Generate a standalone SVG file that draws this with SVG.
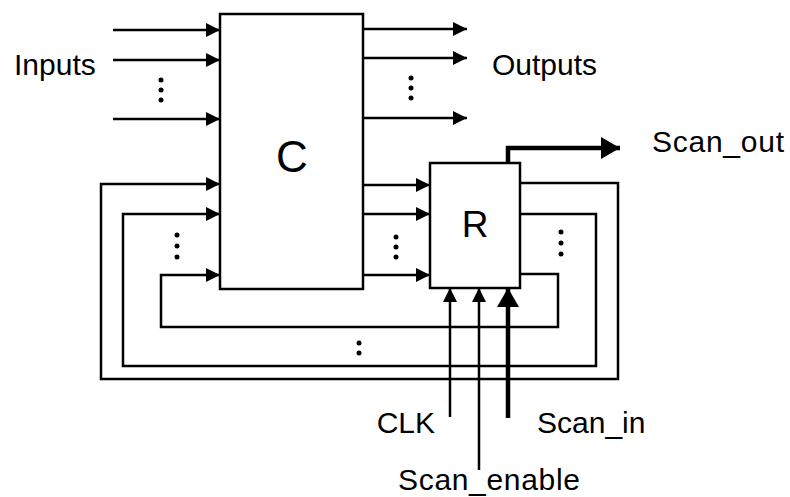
<svg xmlns="http://www.w3.org/2000/svg" width="790" height="497" viewBox="0 0 790 497">
<style>
.box{fill:#fff;stroke:#000;stroke-width:2.5}
.w{fill:none;stroke:#000;stroke-width:2.5;marker-end:url(#ah)}
.wl{fill:none;stroke:#000;stroke-width:2.5}
.tk{fill:none;stroke:#000;stroke-width:4.5;marker-end:url(#ahb)}
.t{font-family:"Liberation Sans",Arial,Helvetica,sans-serif;font-size:30px;fill:#000}
.dot{fill:#000}
</style>
<defs>
<marker id="ah" markerUnits="userSpaceOnUse" markerWidth="14" markerHeight="14" refX="14" refY="7" orient="auto">
<path d="M0,0 L14,7 L0,14 z" fill="#000"/>
</marker>
<marker id="ahb" markerUnits="userSpaceOnUse" markerWidth="19" markerHeight="22" refX="19" refY="11" orient="auto">
<path d="M0,0 L19,11 L0,22 z" fill="#000"/>
</marker>
</defs>
<g id="connectors">
<path class="w" d="M113,30 H220"/>
<path class="w" d="M113,60 H220"/>
<path class="w" d="M113,119 H220"/>
<path class="w" d="M363,29 H467"/>
<path class="w" d="M363,58 H467"/>
<path class="w" d="M363,118 H467"/>
<path class="w" d="M363,185 H430"/>
<path class="w" d="M363,214 H430"/>
<path class="w" d="M363,275 H430"/>
<path class="w" d="M520,183 H618 V379 H101 V184 H220"/>
<path class="w" d="M520,214 H596 V366 H123 V214 H220"/>
<path class="w" d="M520,274 H558 V327 H161 V275 H220"/>
<path class="tk" d="M508,163 V148 H620"/>
<path class="w" d="M450,417 V288"/>
<path class="w" d="M479,470 V288"/>
<path class="tk" d="M508,418 V288"/>
<g class="dot">
<circle cx="161" cy="80" r="2.5"/><circle cx="161" cy="90" r="2.5"/><circle cx="161" cy="100" r="2.5"/>
<circle cx="411" cy="78" r="2.5"/><circle cx="411" cy="88" r="2.5"/><circle cx="411" cy="98" r="2.5"/>
<circle cx="177" cy="235" r="2.5"/><circle cx="177" cy="246" r="2.5"/><circle cx="177" cy="257" r="2.5"/>
<circle cx="396" cy="237" r="2.5"/><circle cx="396" cy="247" r="2.5"/><circle cx="396" cy="257" r="2.5"/>
<circle cx="561" cy="232" r="2.5"/><circle cx="561" cy="243" r="2.5"/><circle cx="561" cy="254" r="2.5"/>
<circle cx="359" cy="343" r="2.5"/><circle cx="359" cy="353" r="2.5"/>
</g>
</g>
<g id="C">
<rect class="box" x="220" y="14" width="143" height="275"/>
<text class="t" x="292" y="172" text-anchor="middle" font-size="44" style="font-size:44px">C</text>
</g>
<g id="R">
<rect class="box" x="430" y="163" width="90" height="125"/>
<text class="t" x="475" y="237" text-anchor="middle" style="font-size:37px">R</text>
</g>
<g id="labels">
<text class="t" x="14" y="75">Inputs</text>
<text class="t" x="492" y="75">Outputs</text>
<text class="t" x="652" y="152" textLength="132" lengthAdjust="spacing">Scan_out</text>
<text class="t" x="435" y="433" text-anchor="end">CLK</text>
<text class="t" x="537" y="433">Scan_in</text>
<text class="t" x="398" y="490" textLength="182" lengthAdjust="spacing">Scan_enable</text>
</g>
</svg>
